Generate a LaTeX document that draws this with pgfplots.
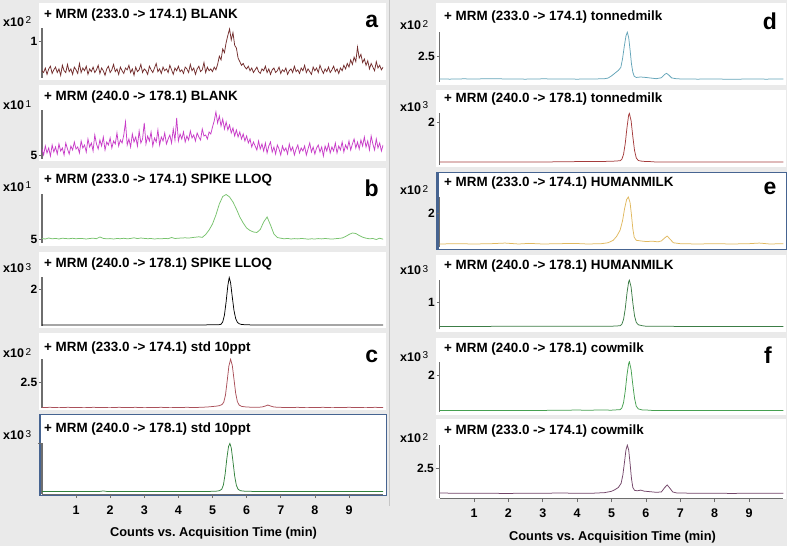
\documentclass[border=0pt]{standalone}
\usepackage{fontspec}
\setmainfont{Liberation Sans}
\usepackage{pgfplots}
\pgfplotsset{compat=1.18}
\definecolor{bg}{RGB}{234,234,234}
\definecolor{frm}{RGB}{70,100,145}
\definecolor{axg}{RGB}{110,110,110}
\definecolor{cA1}{RGB}{115,45,45}
\definecolor{cA2}{RGB}{200,60,200}
\definecolor{cB1}{RGB}{120,195,110}
\definecolor{cC1}{RGB}{170,80,90}
\definecolor{cC2}{RGB}{50,130,60}
\definecolor{cD1}{RGB}{100,165,185}
\definecolor{cD2}{RGB}{165,60,60}
\definecolor{cE1}{RGB}{225,185,95}
\definecolor{cE2}{RGB}{60,125,70}
\definecolor{cF1}{RGB}{70,160,80}
\definecolor{cF2}{RGB}{115,70,105}
\newcommand\ttl{\fontsize{13.4}{13.4}\selectfont\bfseries}
\newcommand\xt[1]{{\fontsize{12.5}{12.5}\selectfont\bfseries x10}\,\raisebox{0.5ex}{\fontsize{10}{10}\selectfont #1}}
\pgfplotsset{
  chrom/.style={scale only axis, anchor=south west, xmin=0, xmax=10,
    axis lines*=left,
    x axis line style={draw=none},
    y axis line style={draw=axg, line width=1.4pt},
    ytick style={draw=axg, line width=0.6pt},
    major tick length=3pt, tick align=outside,
    yticklabel style={font=\fontsize{12}{12}\selectfont\bfseries, inner sep=1.5pt},
    xtick=\empty, no markers,
    every axis plot/.append style={line width=0.75pt}},
  L/.style={chrom, width=341.2pt},
  R/.style={chrom, width=343.8pt},
  bottomx/.style={xtick={1,2,3,4,5,6,7,8,9},
    xticklabels={1,2,3,4,5,6,7,8,9},
    major tick length=4pt,
    x axis line style={draw=axg, line width=0.8pt},
    xtick style={draw=axg, line width=0.6pt},
    xticklabel style={font=\fontsize{12.5}{12.5}\selectfont\bfseries}},
}
\begin{document}
\begin{tikzpicture}
\path[use as bounding box, fill=bg] (0pt,0pt) rectangle (787pt,546pt);
\draw[gray!45, line width=0.8pt] (389pt,40pt) -- (389pt,546pt);
% white panels
\fill[white] (39pt,466pt) rectangle (386pt,543pt);
\fill[white] (39pt,385pt) rectangle (386pt,461pt);
\fill[white] (39pt,300pt) rectangle (386pt,378pt);
\fill[white] (39pt,218pt) rectangle (386pt,294pt);
\fill[white] (39pt,136pt) rectangle (386pt,213pt);
\fill[white] (39pt,51pt) rectangle (386pt,132pt);
\fill[white] (436pt,461pt) rectangle (786pt,543pt);
\fill[white] (436pt,379pt) rectangle (786pt,456pt);
\fill[white] (436pt,297pt) rectangle (786pt,374pt);
\fill[white] (436pt,214pt) rectangle (786pt,291pt);
\fill[white] (436pt,131pt) rectangle (786pt,208pt);
\fill[white] (436pt,47pt) rectangle (786pt,127pt);
\draw[frm, line width=0.9pt] (39.5pt,51pt) rectangle (386pt,132pt);
\draw[frm, line width=2pt] (40pt,51pt) -- (40pt,132pt);
\draw[frm, line width=0.9pt] (436.5pt,297pt) rectangle (786pt,374pt);
\draw[frm, line width=2pt] (437.5pt,297pt) -- (437.5pt,374pt);

% ---------------- a1
\begin{axis}[L, at={(41.9pt,468pt)}, height=50pt, ymin=0.6, ymax=1.151, ytick={1}, yticklabels={1}]
\addplot[cA1] coordinates {
(0.00,0.68)(0.05,0.66)(0.10,0.71)(0.15,0.64)(0.20,0.70)(0.25,0.73)(0.30,0.65)(0.35,0.69)(0.40,0.72)(0.45,0.66)
(0.50,0.70)(0.55,0.63)(0.60,0.74)(0.65,0.68)(0.70,0.66)(0.75,0.75)(0.80,0.67)(0.85,0.70)(0.90,0.64)(0.95,0.72)
(1.00,0.69)(1.05,0.65)(1.10,0.76)(1.15,0.66)(1.20,0.71)(1.25,0.68)(1.30,0.73)(1.35,0.64)(1.40,0.70)(1.45,0.67)
(1.50,0.72)(1.55,0.66)(1.60,0.69)(1.65,0.74)(1.70,0.65)(1.75,0.71)(1.80,0.68)(1.85,0.63)(1.90,0.70)(1.95,0.73)
(2.00,0.66)(2.05,0.69)(2.10,0.75)(2.15,0.67)(2.20,0.70)(2.25,0.64)(2.30,0.72)(2.35,0.68)(2.40,0.65)(2.45,0.71)
(2.50,0.69)(2.55,0.74)(2.60,0.66)(2.65,0.70)(2.70,0.63)(2.75,0.72)(2.80,0.67)(2.85,0.69)(2.90,0.75)(2.95,0.66)
(3.00,0.70)(3.05,0.68)(3.10,0.64)(3.15,0.73)(3.20,0.69)(3.25,0.66)(3.30,0.71)(3.35,0.76)(3.40,0.67)(3.45,0.70)
(3.50,0.65)(3.55,0.72)(3.60,0.68)(3.65,0.70)(3.70,0.66)(3.75,0.74)(3.80,0.69)(3.85,0.64)(3.90,0.71)(3.95,0.68)
(4.00,0.73)(4.05,0.67)(4.10,0.69)(4.15,0.65)(4.20,0.72)(4.25,0.70)(4.30,0.66)(4.35,0.75)(4.40,0.68)(4.45,0.71)
(4.50,0.64)(4.55,0.70)(4.60,0.73)(4.65,0.67)(4.70,0.69)(4.75,0.77)(4.80,0.66)(4.85,0.72)(4.90,0.68)(4.95,0.70)
(5.00,0.67)(5.05,0.72)(5.10,0.69)(5.15,0.75)(5.20,0.84)(5.25,0.80)(5.30,0.92)(5.35,0.88)(5.40,0.99)(5.45,1.07)
(5.50,1.14)(5.55,1.02)(5.60,1.10)(5.65,0.96)(5.70,0.93)(5.75,0.82)(5.80,0.78)(5.85,0.74)(5.90,0.76)(5.95,0.72)
(6.00,0.70)(6.05,0.73)(6.10,0.68)(6.15,0.71)(6.20,0.66)(6.25,0.69)(6.30,0.72)(6.35,0.67)(6.40,0.65)(6.45,0.70)
(6.50,0.68)(6.55,0.73)(6.60,0.66)(6.65,0.70)(6.70,0.64)(6.75,0.69)(6.80,0.71)(6.85,0.66)(6.90,0.68)(6.95,0.72)
(7.00,0.65)(7.05,0.69)(7.10,0.67)(7.15,0.71)(7.20,0.64)(7.25,0.68)(7.30,0.70)(7.35,0.66)(7.40,0.73)(7.45,0.67)
(7.50,0.69)(7.55,0.65)(7.60,0.71)(7.65,0.68)(7.70,0.74)(7.75,0.66)(7.80,0.70)(7.85,0.67)(7.90,0.64)(7.95,0.72)
(8.00,0.68)(8.05,0.71)(8.10,0.66)(8.15,0.74)(8.20,0.69)(8.25,0.65)(8.30,0.70)(8.35,0.67)(8.40,0.72)(8.45,0.66)
(8.50,0.69)(8.55,0.73)(8.60,0.67)(8.65,0.70)(8.70,0.65)(8.75,0.71)(8.80,0.68)(8.85,0.74)(8.90,0.70)(8.95,0.76)
(9.00,0.72)(9.05,0.80)(9.10,0.75)(9.15,0.83)(9.20,0.78)(9.25,0.94)(9.30,0.82)(9.35,0.86)(9.40,0.77)(9.45,0.81)
(9.50,0.74)(9.55,0.79)(9.60,0.70)(9.65,0.76)(9.70,0.72)(9.75,0.68)(9.80,0.78)(9.85,0.71)(9.90,0.74)(9.95,0.69)
(10.00,0.72)};
\end{axis}
% ---------------- a2
\begin{axis}[L, at={(41.9pt,387pt)}, height=49pt, ymin=4.6, ymax=9.5, ytick={5}, yticklabels={5}]
\addplot[cA2] coordinates {
(0.00,5.6)(0.05,5.0)(0.10,5.9)(0.15,5.2)(0.20,5.7)(0.25,4.9)(0.30,6.0)(0.35,5.3)(0.40,5.8)(0.45,5.1)
(0.50,6.1)(0.55,5.4)(0.60,5.7)(0.65,5.0)(0.70,6.2)(0.75,5.6)(0.80,5.1)(0.85,5.9)(0.90,5.5)(0.95,6.3)
(1.00,5.6)(1.05,5.8)(1.10,5.2)(1.15,6.4)(1.20,5.7)(1.25,6.0)(1.30,5.3)(1.35,6.6)(1.40,5.8)(1.45,6.2)
(1.50,5.4)(1.55,7.0)(1.60,6.1)(1.65,5.6)(1.70,6.5)(1.75,5.9)(1.80,6.8)(1.85,5.5)(1.90,6.3)(1.95,6.0)
(2.00,6.7)(2.05,5.7)(2.10,6.4)(2.15,6.1)(2.20,7.2)(2.25,5.9)(2.30,6.5)(2.35,6.2)(2.40,7.0)(2.45,8.3)
(2.50,6.0)(2.55,6.6)(2.60,5.8)(2.65,7.1)(2.70,6.3)(2.75,6.8)(2.80,5.9)(2.85,7.4)(2.90,6.2)(2.95,6.6)
(3.00,8.2)(3.05,6.1)(3.10,6.9)(3.15,6.4)(3.20,7.3)(3.25,5.9)(3.30,6.7)(3.35,6.3)(3.40,7.5)(3.45,6.0)
(3.50,6.8)(3.55,6.4)(3.60,7.2)(3.65,6.1)(3.70,6.6)(3.75,7.0)(3.80,6.2)(3.85,7.6)(3.90,6.5)(3.95,8.7)
(4.00,6.4)(4.05,7.1)(4.10,6.6)(4.15,7.3)(4.20,6.3)(4.25,6.9)(4.30,6.5)(4.35,7.4)(4.40,6.7)(4.45,7.0)
(4.50,6.4)(4.55,7.2)(4.60,6.8)(4.65,6.5)(4.70,7.6)(4.75,6.9)(4.80,7.0)(4.85,6.6)(4.90,7.3)(4.95,7.1)
(5.00,7.8)(5.05,8.4)(5.10,9.3)(5.15,8.2)(5.20,8.9)(5.25,7.9)(5.30,8.6)(5.35,7.6)(5.40,8.3)(5.45,7.5)
(5.50,8.0)(5.55,7.2)(5.60,7.7)(5.65,6.9)(5.70,7.5)(5.75,6.8)(5.80,7.3)(5.85,6.6)(5.90,7.1)(5.95,6.4)
(6.00,6.9)(6.05,6.2)(6.10,6.6)(6.15,5.8)(6.20,6.3)(6.25,5.9)(6.30,5.5)(6.35,6.4)(6.40,5.6)(6.45,6.1)
(6.50,5.4)(6.55,6.2)(6.60,5.2)(6.65,5.9)(6.70,6.3)(6.75,5.3)(6.80,5.8)(6.85,5.1)(6.90,6.0)(6.95,5.6)
(7.00,5.0)(7.05,5.9)(7.10,5.4)(7.15,5.7)(7.20,5.1)(7.25,6.1)(7.30,5.4)(7.35,5.8)(7.40,5.0)(7.45,5.6)
(7.50,6.0)(7.55,5.2)(7.60,5.7)(7.65,5.4)(7.70,5.9)(7.75,5.0)(7.80,5.6)(7.85,6.2)(7.90,5.3)(7.95,5.8)
(8.00,5.1)(8.05,5.7)(8.10,6.0)(8.15,5.3)(8.20,5.8)(8.25,4.9)(8.30,5.9)(8.35,5.4)(8.40,6.1)(8.45,5.2)
(8.50,5.8)(8.55,5.4)(8.60,6.2)(8.65,5.2)(8.70,5.9)(8.75,5.5)(8.80,6.3)(8.85,5.3)(8.90,6.0)(8.95,5.6)
(9.00,6.4)(9.05,5.5)(9.10,6.1)(9.15,6.6)(9.20,5.7)(9.25,6.3)(9.30,5.6)(9.35,6.5)(9.40,5.9)(9.45,6.8)
(9.50,5.8)(9.55,6.4)(9.60,5.5)(9.65,6.9)(9.70,6.1)(9.75,5.5)(9.80,6.6)(9.85,5.7)(9.90,6.2)(9.95,5.4)
(10.00,6.0)};
\end{axis}
% ---------------- b1
\begin{axis}[L, at={(41.9pt,303pt)}, height=49pt, ymin=4.6, ymax=9.5, ytick={5}, yticklabels={5}]
\addplot[cB1] coordinates {
(0.0,5.05)(0.1,5.00)(0.2,5.10)(0.3,5.02)(0.4,5.06)(0.5,5.00)(0.6,5.08)(0.7,5.04)(0.8,5.03)(0.9,5.07)
(1.0,5.02)(1.1,5.06)(1.2,5.04)(1.3,5.00)(1.4,5.05)(1.5,5.08)(1.6,5.03)(1.7,5.20)(1.8,5.06)(1.9,5.02)
(2.0,5.04)(2.1,5.00)(2.2,5.05)(2.3,5.03)(2.4,5.07)(2.5,5.02)(2.6,5.05)(2.7,5.12)(2.8,5.04)(2.9,5.10)
(3.0,5.06)(3.1,5.03)(3.2,5.05)(3.3,5.00)(3.4,5.04)(3.5,5.02)(3.6,5.06)(3.7,5.03)(3.8,5.15)(3.9,5.05)
(4.0,5.08)(4.1,5.10)(4.2,5.12)(4.3,5.09)(4.4,5.14)(4.5,5.18)(4.6,5.22)(4.7,5.16)(4.8,5.45)(4.9,5.90)
(5.0,6.50)(5.1,7.40)(5.2,8.50)(5.3,9.25)(5.4,9.45)(5.5,9.20)(5.6,8.70)(5.7,8.00)(5.8,7.20)(5.9,6.60)
(6.0,6.10)(6.1,5.85)(6.2,5.70)(6.3,5.65)(6.4,5.95)(6.5,6.70)(6.6,7.20)(6.7,6.40)(6.8,5.50)(6.9,5.15)
(7.0,5.08)(7.1,5.02)(7.2,5.06)(7.3,5.00)(7.4,5.04)(7.5,5.01)(7.6,5.05)(7.7,5.03)(7.8,4.98)(7.9,5.02)
(8.0,5.00)(8.1,5.04)(8.2,5.01)(8.3,5.05)(8.4,5.02)(8.5,4.99)(8.6,5.03)(8.7,5.06)(8.8,5.10)(8.9,5.25)
(9.0,5.45)(9.1,5.60)(9.2,5.55)(9.3,5.35)(9.4,5.18)(9.5,5.08)(9.6,5.02)(9.7,5.05)(9.8,4.95)(9.9,5.08)
(10.0,4.98)};
\end{axis}
% ---------------- b2
\begin{axis}[L, at={(41.9pt,220pt)}, height=49pt, ymin=-0.056, ymax=2.667, ytick={2}, yticklabels={2}]
\addplot[black] coordinates {
(0,0.005)(1,0.006)(2,0.005)(3,0.006)(4,0.005)(4.8,0.006)(5.1,0.01)(5.2,0.02)(5.25,0.04)(5.3,0.17)
(5.35,0.55)(5.40,1.30)(5.45,2.20)(5.49,2.64)(5.53,2.35)(5.58,1.55)(5.63,0.80)(5.68,0.35)(5.73,0.15)
(5.78,0.07)(5.85,0.03)(5.95,0.015)(6.1,0.006)(7,0.005)(8,0.006)(9,0.005)(10,0.005)};
\end{axis}
% ---------------- c1
\begin{axis}[L, at={(41.9pt,138pt)}, height=49pt, ymin=0.97, ymax=3.934, ytick={2.5}, yticklabels={2.5}]
\addplot[cC1] coordinates {
(0,1.00)(0.25,1.01)(0.5,0.99)(0.75,1.01)(1.0,1.00)(1.25,0.99)(1.5,1.01)(1.75,1.00)(2.0,0.99)(2.25,1.01)
(2.5,1.00)(2.75,1.01)(3.0,0.99)(3.25,1.00)(3.5,1.01)(3.75,0.99)(4.0,1.00)(4.25,1.01)(4.5,1.00)(4.75,1.02)
(4.9,1.04)(5.0,1.06)(5.1,1.08)(5.2,1.11)(5.28,1.18)(5.33,1.32)(5.38,1.75)(5.43,2.60)(5.48,3.50)(5.53,3.92)
(5.58,3.55)(5.63,2.70)(5.68,1.85)(5.73,1.35)(5.78,1.15)(5.85,1.07)(5.95,1.04)(6.1,1.02)(6.3,1.01)(6.45,1.03)
(6.55,1.09)(6.62,1.15)(6.7,1.09)(6.8,1.03)(6.95,1.01)(7.25,1.00)(7.5,1.01)(7.75,0.99)(8.0,1.00)(8.25,1.01)
(8.5,0.99)(8.75,1.00)(9.0,1.01)(9.25,1.00)(9.5,0.99)(9.75,1.01)(10,1.00)};
\end{axis}
% ---------------- c2
\begin{axis}[L, bottomx, at={(41.9pt,52pt)}, height=51pt, ymin=-0.047, ymax=1.0, ytick={1}, yticklabels={{}},
  xticklabel style={yshift=-4pt}]
\addplot[cC2] coordinates {
(0,0.005)(1.0,0.006)(1.7,0.006)(1.8,0.016)(1.9,0.006)(3,0.005)(4,0.006)(4.9,0.006)(5.1,0.01)(5.2,0.02)
(5.27,0.05)(5.32,0.14)(5.37,0.36)(5.42,0.68)(5.47,0.93)(5.51,0.99)(5.55,0.90)(5.60,0.62)(5.65,0.32)
(5.70,0.13)(5.75,0.05)(5.82,0.02)(5.95,0.01)(6.2,0.006)(7,0.005)(8,0.006)(9,0.005)(10,0.006)};
\end{axis}
% ---------------- d1
\begin{axis}[R, at={(439.6pt,464pt)}, height=50pt, ymin=0.804, ymax=4.065, ytick={2.5}, yticklabels={2.5}]
\addplot[cD1] coordinates {
(0,1.00)(0.3,0.99)(0.7,1.01)(1.0,1.00)(1.5,1.02)(2.0,1.00)(2.5,0.99)(3.0,1.01)(3.5,1.00)(4.0,0.99)
(4.5,1.00)(4.8,1.02)(4.9,1.06)(5.0,1.20)(5.1,1.38)(5.2,1.56)(5.27,1.75)(5.32,2.30)(5.37,3.10)(5.42,3.80)
(5.46,4.05)(5.50,3.70)(5.54,2.90)(5.58,2.00)(5.62,1.45)(5.66,1.18)(5.72,1.10)(5.85,1.13)(6.0,1.10)(6.15,1.06)
(6.3,1.02)(6.45,1.08)(6.55,1.30)(6.6,1.37)(6.67,1.25)(6.75,1.07)(6.9,1.01)(7.2,1.00)(7.5,0.99)(8.0,1.00)
(8.5,0.98)(9.0,1.00)(9.5,0.99)(10,1.00)};
\end{axis}
% ---------------- d2
\begin{axis}[R, at={(439.6pt,381pt)}, height=52pt, ymin=-0.136, ymax=2.49, ytick={2}, yticklabels={2}]
\addplot[cD2] coordinates {
(0,0.01)(1,0.01)(2,0.01)(3.0,0.01)(3.5,0.03)(4.5,0.04)(5.0,0.05)(5.25,0.08)(5.3,0.15)(5.35,0.40)
(5.4,0.95)(5.45,1.75)(5.5,2.40)(5.52,2.47)(5.57,2.10)(5.62,1.30)(5.67,0.60)(5.72,0.22)(5.78,0.09)
(5.9,0.05)(6.2,0.03)(6.3,0.01)(7,0.01)(8,0.01)(9,0.01)(10,0.01)};
\end{axis}
% ---------------- e1
\begin{axis}[R, at={(439.6pt,299pt)}, height=50.3pt, ymin=0.902, ymax=2.541, ytick={2}, yticklabels={2}]
\addplot[cE1] coordinates {
(0,1.00)(0.5,1.01)(1.0,1.00)(1.5,1.01)(1.9,1.03)(2.3,1.00)(2.6,1.02)(3.0,1.00)(3.5,1.01)(3.9,1.02)
(4.3,1.00)(4.7,1.01)(4.9,1.04)(5.05,1.12)(5.15,1.25)(5.25,1.45)(5.32,1.75)(5.38,2.15)(5.44,2.45)(5.49,2.53)
(5.54,2.35)(5.58,1.95)(5.62,1.50)(5.66,1.22)(5.72,1.12)(5.85,1.10)(6.0,1.08)(6.2,1.09)(6.35,1.07)(6.45,1.10)
(6.55,1.20)(6.62,1.26)(6.7,1.16)(6.8,1.04)(7.0,1.01)(7.5,1.00)(8.0,1.01)(8.5,1.00)(9.0,1.01)(9.3,1.03)
(9.6,1.00)(10,1.01)};
\end{axis}
% ---------------- e2
\begin{axis}[R, at={(439.6pt,216.7pt)}, height=49.3pt, ymin=-0.108, ymax=1.946, ytick={1}, yticklabels={1}]
\addplot[cE2] coordinates {
(0,0.01)(2.0,0.015)(3.0,0.02)(4.0,0.015)(5.0,0.02)(5.25,0.04)(5.3,0.10)(5.35,0.30)(5.4,0.75)(5.45,1.40)
(5.5,1.88)(5.52,1.94)(5.57,1.65)(5.62,1.00)(5.67,0.45)(5.72,0.18)(5.78,0.08)(5.9,0.04)(6.0,0.02)(6.5,0.02)
(7.0,0.01)(8,0.01)(9,0.01)(10,0.01)};
\end{axis}
% ---------------- f1
\begin{axis}[R, at={(439.6pt,134.3pt)}, height=50pt, ymin=-0.056, ymax=2.745, ytick={2}, yticklabels={2}]
\addplot[cF1] coordinates {
(0,0.01)(1,0.01)(2,0.01)(3.0,0.01)(3.3,0.03)(3.6,0.02)(4.0,0.04)(4.3,0.02)(4.6,0.04)(5.0,0.03)
(5.25,0.06)(5.3,0.15)(5.35,0.45)(5.4,1.10)(5.45,2.00)(5.5,2.65)(5.52,2.74)(5.57,2.30)(5.62,1.45)
(5.67,0.70)(5.72,0.25)(5.78,0.10)(5.9,0.04)(6.1,0.03)(6.2,0.01)(7,0.01)(8,0.01)(9,0.01)(10,0.01)};
\end{axis}
% ---------------- f2
\begin{axis}[R, bottomx, at={(439.6pt,48pt)}, height=53pt, ymin=0.718, ymax=3.898, ytick={2.5}, yticklabels={2.5},
  xticklabel style={yshift=-3pt}]
\addplot[cF2] coordinates {
(0,1.02)(0.5,1.00)(1.0,1.01)(1.5,1.00)(2.0,0.99)(2.5,1.01)(3.0,1.00)(3.5,1.02)(4.0,1.00)(4.5,1.01)
(4.8,1.04)(5.0,1.12)(5.1,1.22)(5.2,1.35)(5.28,1.60)(5.33,2.10)(5.38,2.90)(5.42,3.60)(5.46,3.89)(5.50,3.60)
(5.54,2.80)(5.58,1.90)(5.62,1.35)(5.67,1.18)(5.75,1.15)(5.85,1.19)(5.95,1.13)(6.1,1.10)(6.3,1.06)(6.45,1.08)
(6.55,1.35)(6.62,1.50)(6.7,1.30)(6.78,1.08)(6.9,1.02)(7.5,1.00)(8.0,1.01)(8.5,0.99)(9.0,1.01)(9.5,1.00)
(10,1.01)};
\end{axis}

% titles
\begin{scope}[every node/.style={anchor=west, inner sep=0pt, font=\ttl}]
\node at (44pt,531pt) {+ MRM (233.0 -> 174.1) BLANK};
\node at (44pt,448.7pt) {+ MRM (240.0 -> 178.1) BLANK};
\node at (44pt,366pt) {+ MRM (233.0 -> 174.1) SPIKE LLOQ};
\node at (44pt,282pt) {+ MRM (240.0 -> 178.1) SPIKE LLOQ};
\node at (44pt,198pt) {+ MRM (233.0 -> 174.1) std 10ppt};
\node at (44pt,116.7pt) {+ MRM (240.0 -> 178.1) std 10ppt};
\node at (444pt,528.7pt) {+ MRM (233.0 -> 174.1) tonnedmilk};
\node at (444pt,446.7pt) {+ MRM (240.0 -> 178.1) tonnedmilk};
\node at (444pt,362.7pt) {+ MRM (233.0 -> 174.1) HUMANMILK};
\node at (444pt,280pt) {+ MRM (240.0 -> 178.1) HUMANMILK};
\node at (444pt,196.7pt) {+ MRM (240.0 -> 178.1) cowmilk};
\node at (444pt,115.3pt) {+ MRM (233.0 -> 174.1) cowmilk};
\end{scope}
% multipliers
\begin{scope}[every node/.style={anchor=west, inner sep=0pt}]
\node at (3pt,524.3pt) {\xt{2}};
\node at (3pt,441pt) {\xt{1}};
\node at (3pt,359.3pt) {\xt{1}};
\node at (3pt,278pt) {\xt{3}};
\node at (3pt,193pt) {\xt{2}};
\node at (3pt,111pt) {\xt{3}};
\node at (400pt,521pt) {\xt{2}};
\node at (400pt,439.3pt) {\xt{3}};
\node at (400pt,356pt) {\xt{2}};
\node at (400pt,276pt) {\xt{3}};
\node at (400pt,189.3pt) {\xt{3}};
\node at (400pt,108pt) {\xt{2}};
\end{scope}
% panel letters
\begin{scope}[every node/.style={inner sep=0pt, font=\fontsize{23}{23}\selectfont\bfseries}]
\node at (371.7pt,524.3pt) {a};
\node at (371.7pt,357.7pt) {b};
\node at (371.7pt,189.3pt) {c};
\node at (770pt,524.3pt) {d};
\node at (770pt,357.7pt) {e};
\node at (768pt,191pt) {f};
\end{scope}
% x labels
\node[font=\fontsize{12.8}{12.8}\selectfont\bfseries, inner sep=0pt] at (213.5pt,12.7pt) {Counts vs.\ Acquisition Time (min)};
\node[font=\fontsize{12.8}{12.8}\selectfont\bfseries, inner sep=0pt] at (612.5pt,9.3pt) {Counts vs.\ Acquisition Time (min)};
\end{tikzpicture}
\end{document}
